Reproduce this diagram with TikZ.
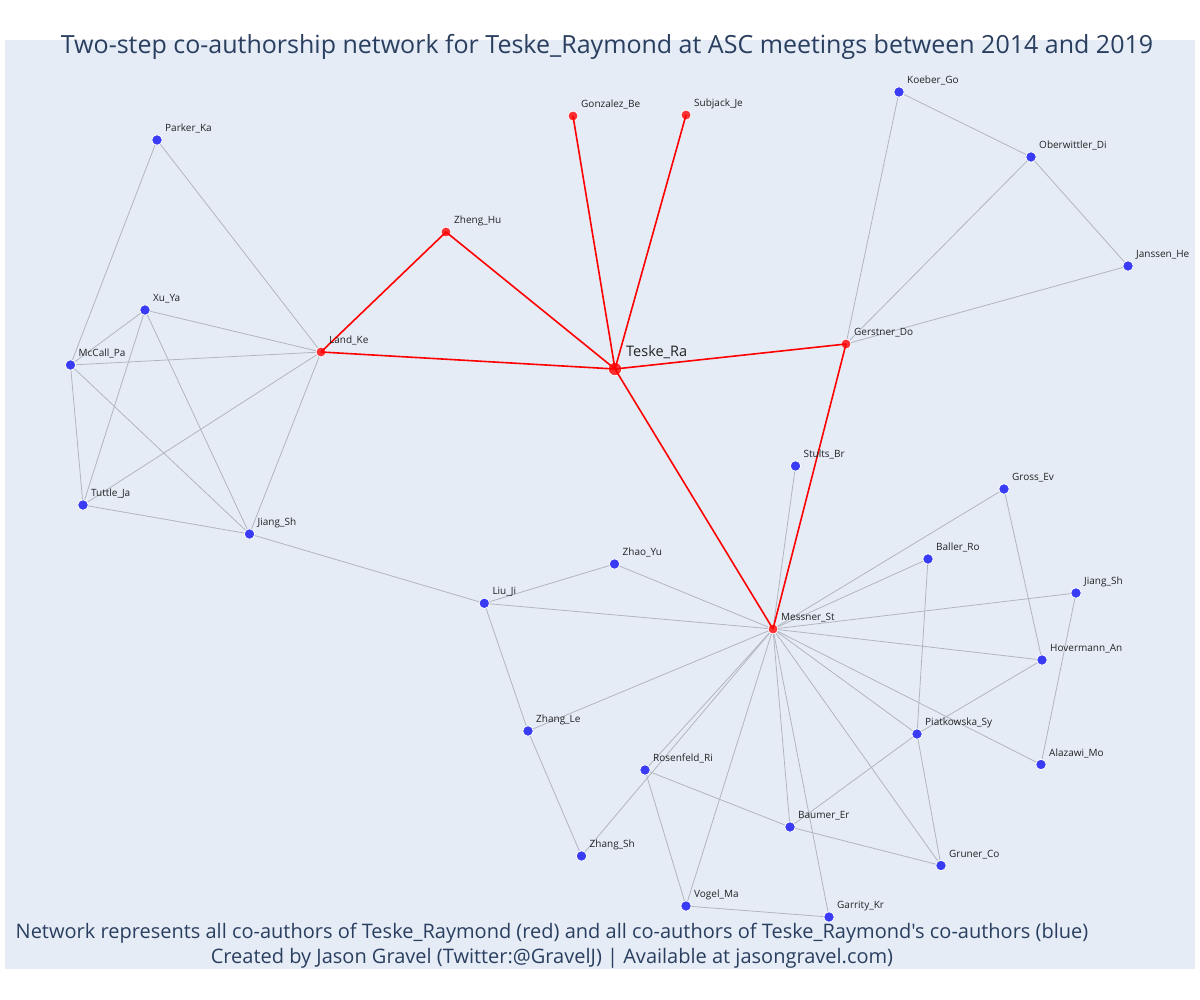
\documentclass[tikz,border=0pt]{standalone}
\usepackage{fontspec}
\setmainfont{Open Sans}[Ligatures=TeXOff]
\definecolor{bgc}{RGB}{229,236,246}
\definecolor{titlec}{RGB}{42,63,95}
\definecolor{bluen}{RGB}{58,60,245}
\definecolor{redn}{RGB}{250,48,50}
\definecolor{edgeg}{RGB}{178,181,192}
\definecolor{labc}{RGB}{35,35,35}
\begin{document}
\begin{tikzpicture}[x=1pt,y=-1pt,
  bn/.style={circle,fill=bluen,draw=white,line width=0.8pt,minimum size=10.5pt,inner sep=0pt},
  rn/.style={circle,fill=redn,draw=white,line width=0.8pt,minimum size=10pt,inner sep=0pt},
  cn/.style={circle,fill=redn,draw=white,line width=0.8pt,minimum size=13.5pt,inner sep=0pt},
  lab/.style={anchor=base west,inner sep=0pt,text=labc,font=\fontsize{10}{12}\selectfont},
  ge/.style={draw=edgeg,line width=0.8pt},
  re/.style={draw=red,line width=1.6pt}]
\useasboundingbox (0,0) rectangle (1200,1000);
\fill[white] (0,0) rectangle (1200,1000);
\fill[bgc] (5,40) rectangle (1195,969);
% node coordinates
\coordinate (cTeske) at (615,369);
\coordinate (cGonz) at (573,116);
\coordinate (cSubj) at (686,115);
\coordinate (cZheng) at (446,232);
\coordinate (cLand) at (321,352);
\coordinate (cGerst) at (846,344);
\coordinate (cMess) at (773,629);
\coordinate (cKoeb) at (899,92);
\coordinate (cOber) at (1031,157);
\coordinate (cJans) at (1128,266);
\coordinate (cPark) at (157,140);
\coordinate (cXu) at (145,310);
\coordinate (cMcC) at (70.5,365);
\coordinate (cTutt) at (83,505);
\coordinate (cJiL) at (249.5,534);
\coordinate (cLiu) at (484.3,603.3);
\coordinate (cZhao) at (614.5,564);
\coordinate (cZLe) at (528,731);
\coordinate (cRos) at (645,770);
\coordinate (cZSh) at (581.5,856);
\coordinate (cVog) at (686,906);
\coordinate (cGar) at (829,917);
\coordinate (cBau) at (790,827);
\coordinate (cStu) at (795.5,466);
\coordinate (cGro) at (1004,489);
\coordinate (cBal) at (928,559);
\coordinate (cJiR) at (1076,593);
\coordinate (cHov) at (1042,660);
\coordinate (cPia) at (917,734);
\coordinate (cAla) at (1041,764.5);
\coordinate (cGru) at (941,865.5);
% gray edges
\foreach \a/\b in {cPark/cMcC,cPark/cLand,cXu/cLand,cXu/cMcC,cXu/cTutt,cXu/cJiL,
  cMcC/cLand,cMcC/cTutt,cMcC/cJiL,cTutt/cLand,cTutt/cJiL,cLand/cJiL,cJiL/cLiu,
  cKoeb/cOber,cKoeb/cGerst,cOber/cGerst,cOber/cJans,cJans/cGerst,
  cStu/cMess,cLiu/cZhao,cLiu/cMess,cLiu/cZLe,cZhao/cMess,cZLe/cMess,cZLe/cZSh,
  cRos/cMess,cZSh/cMess,cRos/cVog,cRos/cBau,cVog/cMess,cVog/cGar,cGar/cMess,
  cBau/cMess,cBau/cGru,cBau/cPia,cMess/cGro,cMess/cBal,cMess/cJiR,cMess/cHov,
  cMess/cPia,cMess/cAla,cMess/cGru,cGro/cHov,cBal/cPia,cJiR/cAla,cHov/cPia,cPia/cGru}
  \draw[ge] (\a) -- (\b);
% nodes
\node[cn] (Teske) at (cTeske) {};
\foreach \c/\n in {cGonz/Gonz,cSubj/Subj,cZheng/Zheng,cLand/Land,cGerst/Gerst,cMess/Mess}
  \node[rn] (\n) at (\c) {};
\foreach \c/\n in {cKoeb/Koeb,cOber/Ober,cJans/Jans,cPark/Park,cXu/Xu,cMcC/McC,cTutt/Tutt,
  cJiL/JiL,cLiu/Liu,cZhao/Zhao,cZLe/ZLe,cRos/Ros,cZSh/ZSh,cVog/Vog,cGar/Gar,cBau/Bau,
  cStu/Stu,cGro/Gro,cBal/Bal,cJiR/JiR,cHov/Hov,cPia/Pia,cAla/Ala,cGru/Gru}
  \node[bn] (\n) at (\c) {};
% red edges
\foreach \a/\b in {Land/Zheng,Land/Teske,Zheng/Teske,Gonz/Teske,Subj/Teske,Gerst/Teske,Mess/Teske,Gerst/Mess}
  \draw[re] (\a.center) -- (\b.center);
% labels
\foreach \n/\t in {Gonz/Gonzalez\_Be,Subj/Subjack\_Je,Zheng/Zheng\_Hu,Land/Land\_Ke,Gerst/Gerstner\_Do,
  Mess/Messner\_St,Koeb/Koeber\_Go,Ober/Oberwittler\_Di,Jans/Janssen\_He,Park/Parker\_Ka,Xu/Xu\_Ya,
  McC/McCall\_Pa,Tutt/Tuttle\_Ja,JiL/Jiang\_Sh,Liu/Liu\_Ji,Zhao/Zhao\_Yu,ZLe/Zhang\_Le,
  Ros/Rosenfeld\_Ri,ZSh/Zhang\_Sh,Vog/Vogel\_Ma,Gar/Garrity\_Kr,Bau/Baumer\_Er,Stu/Stults\_Br,
  Gro/Gross\_Ev,Bal/Baller\_Ro,JiR/Jiang\_Sh,Hov/Hovermann\_An,Pia/Piatkowska\_Sy,Ala/Alazawi\_Mo,Gru/Gruner\_Co}
  \node[lab] (L\n) at ([xshift=8pt,yshift=8.5pt]\n.center) {\t};
\node[lab,font=\fontsize{14.5}{17}\selectfont] (LTeske) at ([xshift=11pt,yshift=13pt]Teske.center) {Teske\_Ra};
% title and footer
\node[anchor=base,inner sep=0pt,text=titlec,font=\fontsize{25}{30}\selectfont] (title) at (607,53.5)
  {Two-step co-authorship network for Teske\_Raymond at ASC meetings between 2014 and 2019};
\node[anchor=base,inner sep=0pt,text=titlec,align=center,font=\fontsize{20}{25}\selectfont] (foot) at (552,963)
  {Network represents all co-authors of Teske\_Raymond (red) and all co-authors of Teske\_Raymond's co-authors (blue)\\
   Created by Jason Gravel (Twitter:@GravelJ) | Available at jasongravel.com)};
\end{tikzpicture}
\end{document}
